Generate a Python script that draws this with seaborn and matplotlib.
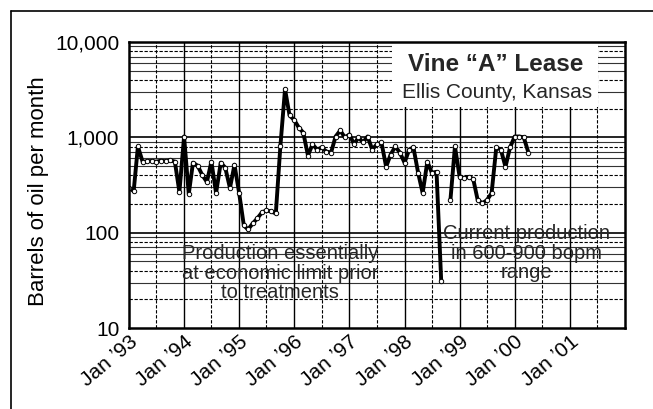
import numpy as np
import pandas as pd
import matplotlib
matplotlib.use("Agg")
import matplotlib.pyplot as plt
from matplotlib.patches import Rectangle
from matplotlib.lines import Line2D
import seaborn as sns

# ---- data (monthly barrels of oil, Jan 1993 onward; None = missing month) ----
barrels = [
    294, 273, 802, 556, 560, 565, 555, 570, 560, 575, 556, 267,   # 1993
    1020, 254, 542, 503, 404, 340, 556, 260, 542, 480, 294, 516,  # 1994
    260, 119, 108, 125, 141, 163, 171, 167, 159, 802, 3200, 1700, # 1995
    1520, 1260, 1120, 644, 843, 745, 783, 710, 692, 1020, 1180, 1000,  # 1996
    1070, 843, 1000, 885, 1020, 745, 843, 885, 491, 660, 802, 692,     # 1997
    542, 745, 783, 425, 260, 556, 425, 435, 31, None, 219, 802,        # 1998
    385, 375, 385, 366, 219, 204, 219, 260, 783, 745, 491, 783,        # 1999
    1020, 1020, 1000, 692,                                              # 2000
]
start_month = "1993-01-01"
year_ticks = list(range(1993, 2002))
x_labels = ["Jan \u201993", "Jan \u201994", "Jan \u201995", "Jan \u201996", "Jan \u201997",
            "Jan \u201998", "Jan \u201999", "Jan \u201900", "Jan \u201901"]
y_ticks = [10, 100, 1000, 10000]
y_labels = ["10", "100", "1,000", "10,000"]
title_main = "Vine \u201cA\u201d Lease"
title_sub = "Ellis County, Kansas"
note_left = "Production essentially\nat economic limit prior\nto treatments"
note_right = "Current production\nin 600-900 bopm\nrange"
y_title = "Barrels of oil per month"

dates = pd.date_range(start_month, periods=len(barrels), freq="MS")
df = pd.DataFrame({"date": dates, "barrels": barrels})
df["barrels"] = pd.to_numeric(df["barrels"])
df["segment"] = df["barrels"].isna().cumsum()
df = df.dropna()

# ---- style ----
sns.set_style("white")
plt.rcParams["font.family"] = ["Liberation Sans", "DejaVu Sans"]

fig = plt.figure(figsize=(6.53, 4.09), dpi=100)
ax = fig.add_axes([129/653, 1-328/409, 496/653, 286/409])

ax.set_yscale("log")
ax.set_ylim(10, 10000)
ax.set_xlim(pd.Timestamp("1993-01-01"), pd.Timestamp("2002-01-01"))

# grid: horizontal
for dec in [10, 100, 1000]:
    for k in range(2, 10):
        v = dec * k
        if k in (2, 4, 8):
            ax.axhline(v, color="black", lw=0.8, ls=(0, (3, 1.5)), zorder=1)
        else:
            ax.axhline(v, color="#333333", lw=0.8, zorder=1)
for v in [100, 1000]:
    ax.axhline(v, color="black", lw=1.2, zorder=1)
# grid: vertical
for yr in range(1993, 2002):
    if yr > 1993:
        ax.axvline(pd.Timestamp(f"{yr}-01-01"), color="black", lw=1.0, zorder=1)
    ax.axvline(pd.Timestamp(f"{yr}-07-01"), color="black", lw=0.8,
               ls=(0, (3, 1.5)), zorder=1)

sns.lineplot(data=df, x="date", y="barrels", units="segment", estimator=None,
             color="black", lw=2.8, marker="o", markersize=3.2,
             markerfacecolor="white", markeredgecolor="black",
             markeredgewidth=0.7, ax=ax, zorder=5, legend=False)

ax.set_yticks(y_ticks)
ax.set_yticklabels(y_labels)
ax.yaxis.set_minor_locator(matplotlib.ticker.NullLocator())
ax.set_xticks([pd.Timestamp(f"{y}-01-01") for y in year_ticks])
ax.set_xticklabels(x_labels, rotation=40, ha="right", va="top",
                   rotation_mode="anchor")
ax.tick_params(axis="both", length=0, labelsize=15, colors="black")
ax.tick_params(axis="y", pad=7)
ax.tick_params(axis="x", pad=3)
ax.set_xlabel("")
ax.set_ylabel(y_title, fontsize=16, color="black")
ax.yaxis.set_label_coords(-0.162, 0.48)

for sp in ax.spines.values():
    sp.set_color("black")
    sp.set_linewidth(1.8)
    sp.set_visible(True)
    sp.set_zorder(6)

# title box
ax.add_patch(Rectangle((0.53, 0.772), 0.415, 0.225, transform=ax.transAxes,
                       facecolor="white", edgecolor="none", zorder=3))
ax.text(0.74, 0.920, title_main, transform=ax.transAxes, ha="center",
        va="center", fontsize=17.5, fontweight="bold", zorder=4)
ax.text(0.742, 0.825, title_sub, transform=ax.transAxes, ha="center",
        va="center", fontsize=15, zorder=4)

ax.text(0.304, 0.192, note_left, transform=ax.transAxes, ha="center",
        va="center", ma="center", fontsize=14.5, linespacing=1.05, zorder=4)
ax.text(0.802, 0.262, note_right, transform=ax.transAxes, ha="center",
        va="center", ma="center", fontsize=14.5, linespacing=1.05, zorder=4)

# outer frame lines (left and top)
fig.add_artist(Line2D([11/653, 11/653], [0, 1-11/409], transform=fig.transFigure,
                      color="black", lw=1.2))
fig.add_artist(Line2D([11/653, 1], [1-11/409, 1-11/409], transform=fig.transFigure,
                      color="black", lw=1.2))

fig.savefig("out.png", dpi=100)
